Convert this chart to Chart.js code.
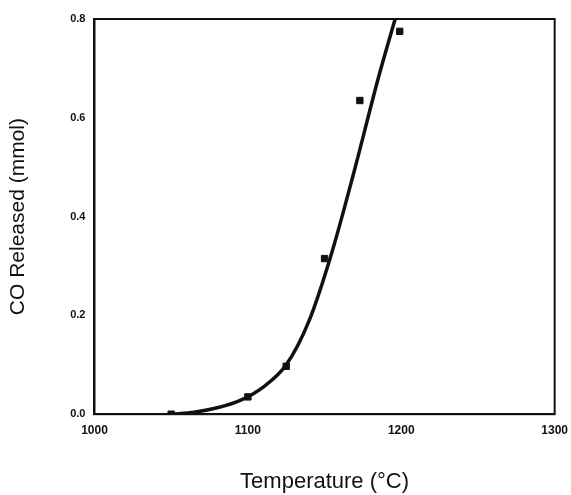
<!DOCTYPE html>
<html><head><script src="https://cdn.jsdelivr.net/npm/chart.js@4"></script>
<style>body{margin:0;background:#fff}#w{width:571px;height:495px}</style></head>
<body><div id="w"><canvas id="c"></canvas></div>
<script>
const pointTemps=[1050,1100,1125,1150,1173,1199];
const pointCO=[0.0,0.035,0.097,0.315,0.635,0.775];
const curveTemps=[1050,1065,1080,1095,1110,1125,1140,1155,1170,1185,1196];
const curveCO=[0.0,0.004,0.013,0.028,0.055,0.10,0.19,0.33,0.50,0.68,0.80];
const xTicks=[1000,1100,1200,1300];
const yTicks=[0.0,0.2,0.4,0.6,0.8];
new Chart(document.getElementById('c'),{
 type:'scatter',
 data:{datasets:[
  {data:curveTemps.map((t,i)=>({x:t,y:curveCO[i]})),showLine:true,borderColor:'#111',borderWidth:3.5,pointRadius:0,tension:0.4,cubicInterpolationMode:'monotone'},
  {data:pointTemps.map((t,i)=>({x:t,y:pointCO[i]})),pointStyle:'rect',pointRadius:4.5,backgroundColor:'#111',borderColor:'#111'}
 ]},
 options:{responsive:true,maintainAspectRatio:false,animation:false,
  layout:{padding:{top:19,right:16,left:6,bottom:0}},
  plugins:{legend:{display:false},tooltip:{enabled:false}},
  scales:{
   x:{type:'linear',min:1000,max:1300,afterBuildTicks:a=>{a.ticks=xTicks.map(v=>({value:v}))},
    grid:{display:false,drawTicks:true,tickLength:6,tickColor:'#111'},border:{color:'#111',width:2},
    ticks:{color:'#111',font:{family:'Liberation Sans',size:12,weight:'bold'},callback:v=>String(v)},
    title:{display:true,text:'Temperature (°C)',color:'#111',font:{family:'Liberation Sans',size:22},padding:{top:28,bottom:0}}},
   y:{min:0,max:0.8,afterBuildTicks:a=>{a.ticks=yTicks.map(v=>({value:v}))},
    grid:{display:false,tickLength:6,tickColor:'#111'},border:{color:'#111',width:2},
    ticks:{color:'#111',font:{family:'Liberation Sans',size:11,weight:'bold'},callback:v=>v.toFixed(1)},
    title:{display:true,text:'CO Released (mmol)',color:'#111',font:{family:'Liberation Sans',size:21},padding:{top:0,bottom:36}}}
  }},
 plugins:[{id:'frame',afterDraw(ch){const a=ch.chartArea,x=ch.ctx;x.save();x.strokeStyle='#111';x.lineWidth=2;x.strokeRect(a.left,a.top,a.right-a.left,a.bottom-a.top);x.restore();}}]
});
</script></body></html>
